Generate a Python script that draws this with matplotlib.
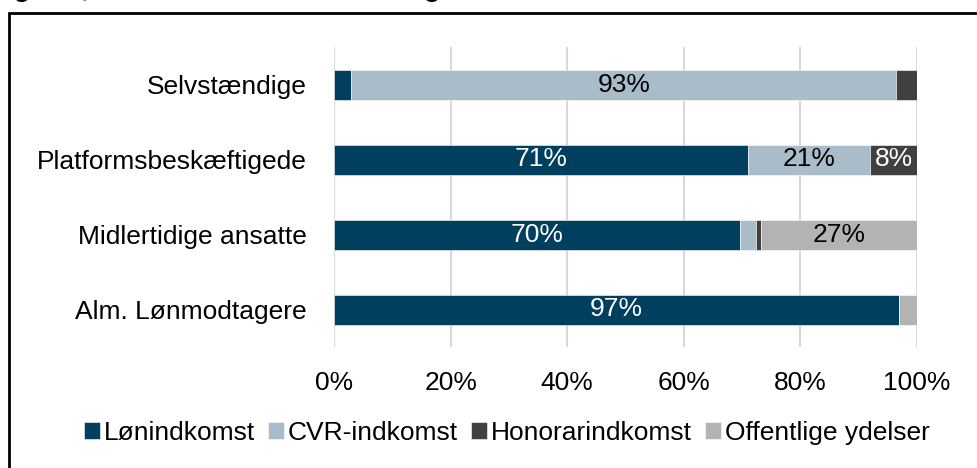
import matplotlib
matplotlib.use("Agg")
import matplotlib.pyplot as plt
from matplotlib.patches import Rectangle
import numpy as np

plt.rcParams['font.family'] = ['Liberation Sans', 'DejaVu Sans']

categories = ["Alm. Lønmodtagere", "Midlertidige ansatte", "Platformsbeskæftigede", "Selvstændige"]
series_names = ["Lønindkomst", "CVR-indkomst", "Honorarindkomst", "Offentlige ydelser"]
loen = [96.9, 69.6, 71.0, 3.0]
cvr = [0.0, 2.8, 21.0, 93.4]
honorar = [0.0, 0.9, 8.0, 3.6]
offentlige = [3.1, 26.7, 0.0, 0.0]
colors = ["#003F5E", "#A9BCC9", "#404040", "#B3B3B3"]
label_colors = ["white", "black", "white", "black"]
xticks = [0, 20, 40, 60, 80, 100]
xtick_labels = ["0%", "20%", "40%", "60%", "80%", "100%"]
title = "Figur 3, Indkomstsammensætning"

FS = 19
W, H = 978, 468
fig = plt.figure(figsize=(W / 100, H / 100), dpi=100)
ax = fig.add_axes([334 / W, 1 - 347 / H, (917 - 334) / W, 300 / H])

y = np.arange(len(categories))
left = np.zeros(len(categories))
for vals, name, col, lc in zip([loen, cvr, honorar, offentlige], series_names, colors, label_colors):
    vals = np.array(vals)
    bars = ax.barh(y, vals, left=left, height=0.4, color=col, label=name,
                   edgecolor="white", linewidth=0.4, zorder=3)
    for b, v, l in zip(bars, vals, left):
        if v >= 5:
            ax.text(l + v / 2, b.get_y() + b.get_height() / 2, f"{v:.0f}%",
                    ha="center", va="center", color=lc, fontsize=FS, zorder=4)
    left = left + vals

ax.set_xlim(0, 100)
ax.set_ylim(-0.5, len(categories) - 0.5)
ax.set_xticks(xticks)
ax.set_xticklabels(xtick_labels, fontsize=FS)
ax.set_yticks(y)
ax.set_yticklabels(categories, fontsize=FS)
ax.tick_params(axis="both", length=0)
ax.tick_params(axis="x", pad=17)
ax.tick_params(axis="y", pad=19.5)
ax.grid(axis="x", color="#D9D9D9", linewidth=1.5, zorder=0)
ax.set_axisbelow(True)
for s in ax.spines.values():
    s.set_visible(False)

handles, labels = ax.get_legend_handles_labels()
fig.legend(handles, labels, loc="center", bbox_to_anchor=(507 / W, 1 - 433 / H),
           ncol=4, frameon=False, fontsize=FS, handlelength=0.6, handleheight=0.6,
           handletextpad=0.15, columnspacing=0.5)

# outer frame (partially cropped in the reference)
fig.patches.append(Rectangle((8.5 / W, -0.1), 1.2, 1 - 13.5 / H + 0.1,
                             transform=fig.transFigure, fill=False,
                             edgecolor="black", linewidth=2, clip_on=False))
# cropped title (only descenders visible in the reference)
fig.text(-11 / W, 1 + 4 / H, title, ha="left", va="baseline",
         fontsize=20, fontweight="bold")

fig.savefig("out.png", dpi=100)
